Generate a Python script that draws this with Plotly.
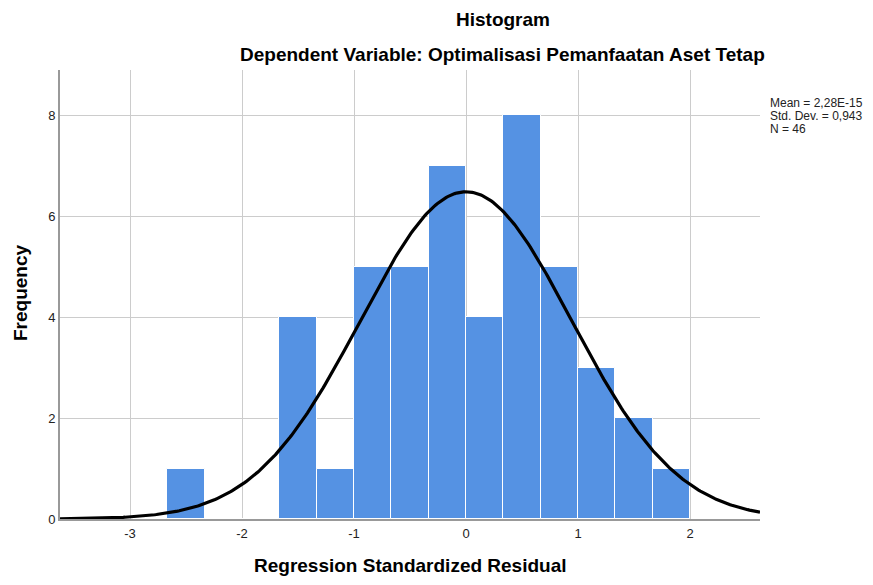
import numpy as np
import plotly.graph_objects as go

# Histogram bins (width 1/3) and counts
bin_left_edges = [-8/3, -7/3, -2, -5/3, -4/3, -1, -2/3, -1/3, 0, 1/3, 2/3, 1, 4/3, 5/3]
counts = [1, 0, 0, 4, 1, 5, 5, 7, 4, 8, 5, 3, 2, 1]
bin_width = 1/3

# Summary statistics shown in the legend
mean_val = 2.28e-15
std_dev = 0.943
n_obs = 46
stat_lines = ["Mean = 2,28E-15", "Std. Dev. = 0,943", "N = 46"]

x_ticks = [-3, -2, -1, 0, 1, 2]
y_ticks = [0, 2, 4, 6, 8]

centers = [e + bin_width / 2 for e in bin_left_edges]

# Fitted normal curve derived from the summary statistics
xc = np.linspace(-3.625, 2.625, 400)
yc = n_obs * bin_width / (std_dev * np.sqrt(2 * np.pi)) * np.exp(-0.5 * ((xc - mean_val) / std_dev) ** 2)

# page body adds an 8px offset; figure is sized to fit inside the window
OFF = 8
W, H = 857, 569
pl, pr, pt, pb = 60 - OFF, 760 - OFF, 70 - OFF, 519 - OFF

def px(X):
    return (X - OFF - pl) / (pr - pl)

def py(Y):
    return (pb - (Y - OFF)) / (pb - pt)

fig = go.Figure()
fig.add_trace(go.Bar(
    x=centers, y=counts, width=bin_width,
    marker=dict(color="#5592e3", line=dict(color="#ffffff", width=1)),
    showlegend=False, hoverinfo="skip",
))
fig.add_trace(go.Scatter(
    x=xc, y=yc, mode="lines",
    line=dict(color="#000000", width=3.2),
    showlegend=False, hoverinfo="skip",
))

annotations = [
    dict(text="<b>Histogram</b>", x=px(503), y=py(19), font=dict(size=19)),
    dict(text="<b>Dependent Variable: Optimalisasi Pemanfaatan Aset Tetap</b>",
         x=px(502), y=py(55), font=dict(size=19)),
    dict(text="<b>Regression Standardized Residual</b>", x=px(410), y=py(565),
         font=dict(size=19)),
    dict(text="<b>Frequency</b>", x=px(20), y=py(293), textangle=-90, font=dict(size=19)),
]
for i, s in enumerate(stat_lines):
    annotations.append(dict(text=s, x=px(768), y=py(103 + 13 * i), xanchor="left",
                            font=dict(size=12, color="#222222")))
for a in annotations:
    a.update(xref="paper", yref="paper", showarrow=False)
    a.setdefault("xanchor", "center")
    a.setdefault("yanchor", "middle")

fig.update_layout(
    width=W, height=H,
    margin=dict(l=pl, r=W - pr, t=pt, b=H - pb),
    paper_bgcolor="white", plot_bgcolor="white",
    font=dict(family="Arial, Liberation Sans, sans-serif", color="#000000"),
    bargap=0,
    xaxis=dict(
        range=[-3.625, 2.625], tickvals=x_ticks, ticktext=[str(t) for t in x_ticks],
        showgrid=True, gridcolor="#cccccc", gridwidth=1,
        showline=True, linecolor="#999999", linewidth=2,
        zeroline=False, ticks="", tickfont=dict(size=13, color="#222222"),
        ticklabelstandoff=1,
    ),
    yaxis=dict(
        range=[0, 8.9], tickvals=y_ticks,
        showgrid=True, gridcolor="#cccccc", gridwidth=1,
        showline=True, linecolor="#999999", linewidth=2,
        zeroline=False, ticks="", tickfont=dict(size=13, color="#222222"),
    ),
    annotations=annotations,
)

fig.write_html("out.html")
